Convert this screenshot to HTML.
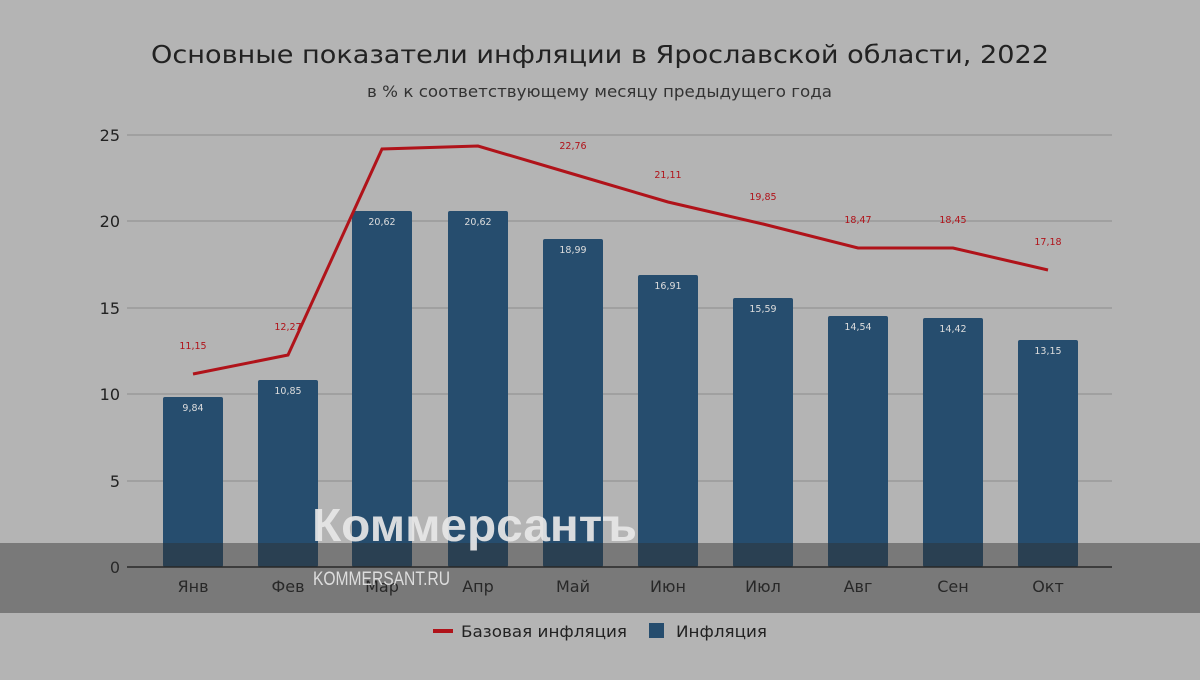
<!DOCTYPE html>
<html><head><meta charset="utf-8"><style>
body{margin:0;width:1200px;height:675px;background:#b4b4b4;overflow:hidden}
</style></head><body>
<svg width="1200" height="675" xmlns="http://www.w3.org/2000/svg" font-family="DejaVu Sans, Liberation Sans, sans-serif">
<rect width="1200" height="675" fill="#b4b4b4"/>
<text x="151" y="63" font-size="25" fill="#222" textLength="898" lengthAdjust="spacingAndGlyphs">Основные показатели инфляции в Ярославской области, 2022</text>
<text x="367" y="97" font-size="16" fill="#333" textLength="465" lengthAdjust="spacingAndGlyphs">в % к соответствующему месяцу предыдущего года</text>
<g stroke="#999" stroke-width="1.5">
<line x1="127" x2="1112" y1="135" y2="135"/><line x1="127" x2="1112" y1="221" y2="221"/>
<line x1="127" x2="1112" y1="308" y2="308"/><line x1="127" x2="1112" y1="394" y2="394"/>
<line x1="127" x2="1112" y1="481" y2="481"/>
</g>
<g font-size="16" fill="#222" text-anchor="end">
<text x="120" y="141">25</text><text x="120" y="227">20</text><text x="120" y="314">15</text>
<text x="120" y="400">10</text><text x="120" y="487">5</text><text x="120" y="573">0</text>
</g>
<g fill="#264d6e">
<rect x="163" y="397" width="60" height="170" rx="2"/>
<rect x="258" y="380" width="60" height="187" rx="2"/>
<rect x="352" y="211" width="60" height="356" rx="2"/>
<rect x="448" y="211" width="60" height="356" rx="2"/>
<rect x="543" y="239" width="60" height="328" rx="2"/>
<rect x="638" y="275" width="60" height="292" rx="2"/>
<rect x="733" y="298" width="60" height="269" rx="2"/>
<rect x="828" y="316" width="60" height="251" rx="2"/>
<rect x="923" y="318" width="60" height="249" rx="2"/>
<rect x="1018" y="340" width="60" height="227" rx="2"/>
</g>
<g font-size="9.5" fill="#ddd" text-anchor="middle">
<text x="193" y="411">9,84</text><text x="288" y="394">10,85</text><text x="382" y="225">20,62</text>
<text x="478" y="225">20,62</text><text x="573" y="253">18,99</text><text x="668" y="289">16,91</text>
<text x="763" y="312">15,59</text><text x="858" y="330">14,54</text><text x="953" y="332">14,42</text>
<text x="1048" y="354">13,15</text>
</g>
<polyline fill="none" stroke="#b0131a" stroke-width="3" points="193,374 288,355 382,149 478,146 573,174 668,202 763,224 858,248 953,248 1048,270"/>
<g font-size="9.5" fill="#b0131a" text-anchor="middle">
<text x="193" y="349">11,15</text><text x="288" y="330">12,27</text><text x="573" y="149">22,76</text>
<text x="668" y="178">21,11</text><text x="763" y="200">19,85</text><text x="858" y="223">18,47</text>
<text x="953" y="223">18,45</text><text x="1048" y="245">17,18</text>
</g>
<line x1="127" x2="1112" y1="567" y2="567" stroke="#222" stroke-width="1.5"/>
<g font-size="16" fill="#222" text-anchor="middle">
<text x="193" y="592">Янв</text><text x="288" y="592">Фев</text><text x="382" y="592">Мар</text>
<text x="478" y="592">Апр</text><text x="573" y="592">Май</text><text x="668" y="592">Июн</text>
<text x="763" y="592">Июл</text><text x="858" y="592">Авг</text><text x="953" y="592">Сен</text>
<text x="1048" y="592">Окт</text>
</g>
<rect x="0" y="543" width="1200" height="70" fill="#303030" opacity="0.45"/>
<text x="312" y="541" font-family="Liberation Sans, sans-serif" font-size="46" font-weight="bold" fill="#e8e8e8" opacity="0.92" textLength="325" lengthAdjust="spacingAndGlyphs">Коммерсантъ</text>
<text x="313" y="585" font-family="Liberation Sans, sans-serif" font-size="19" fill="#e8e8e8" opacity="0.9" textLength="137" lengthAdjust="spacingAndGlyphs">KOMMERSANT.RU</text>
<line x1="433" x2="453" y1="631" y2="631" stroke="#b0131a" stroke-width="4"/>
<text x="461" y="637" font-size="16" fill="#222" textLength="166" lengthAdjust="spacingAndGlyphs">Базовая инфляция</text>
<rect x="649" y="623" width="15" height="15" fill="#264d6e"/>
<text x="676" y="637" font-size="16" fill="#222" textLength="91" lengthAdjust="spacingAndGlyphs">Инфляция</text>
</svg>
</body></html>
